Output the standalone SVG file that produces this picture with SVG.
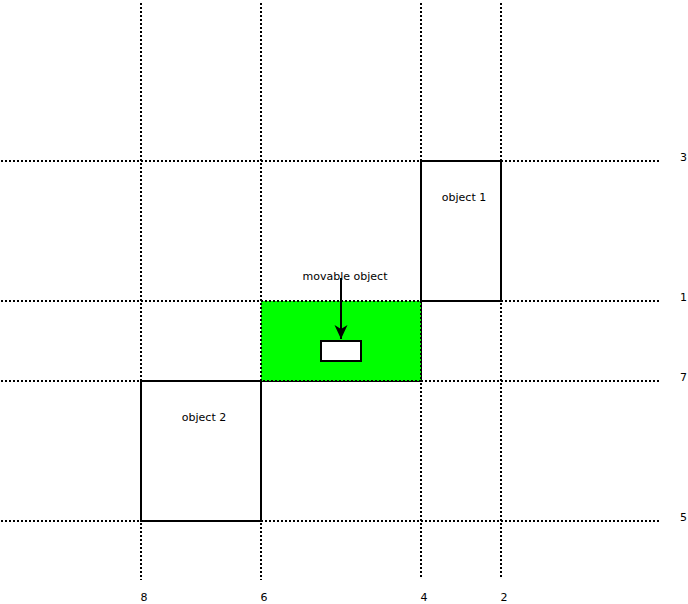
<svg xmlns="http://www.w3.org/2000/svg" width="688" height="604" viewBox="0 0 688 604">
<style>
.grid{stroke:#000;stroke-width:2;stroke-dasharray:2 2;fill:none}
.box{stroke:#000;stroke-width:2;fill:#fff}
.lbl{font-family:"DejaVu Sans","Liberation Sans",sans-serif;font-size:11px;fill:#000}
.m{text-anchor:middle}
</style>
<defs>
<marker id="ah" markerWidth="16" markerHeight="16" refX="14" refY="6.5" orient="auto" markerUnits="userSpaceOnUse">
<path d="M0,0 L14,6.5 L0,13 L4,6.5 Z" fill="#000"/>
</marker>
</defs>
<rect width="688" height="604" fill="#fff"/>
<g id="grid">
<line class="grid" x1="141" y1="3" x2="141" y2="580"/>
<line class="grid" x1="261" y1="3" x2="261" y2="580"/>
<line class="grid" x1="421" y1="3" x2="421" y2="578"/>
<line class="grid" x1="501" y1="3" x2="501" y2="578"/>
<line class="grid" x1="1" y1="161" x2="660" y2="161"/>
<line class="grid" x1="1" y1="301" x2="660" y2="301"/>
<line class="grid" x1="1" y1="381" x2="660" y2="381"/>
<line class="grid" x1="1" y1="521" x2="660" y2="521"/>
</g>
<g id="labels">
<text class="lbl" x="680" y="161">3</text>
<text class="lbl" x="680" y="301">1</text>
<text class="lbl" x="680" y="381">7</text>
<text class="lbl" x="680" y="521">5</text>
<text class="lbl m" x="144" y="601">8</text>
<text class="lbl m" x="264" y="601">6</text>
<text class="lbl m" x="424" y="601">4</text>
<text class="lbl m" x="504" y="601">2</text>
</g>
<g id="zone">
<rect x="261" y="301" width="160" height="80" fill="#00ff00" stroke="#000" stroke-width="2" stroke-dasharray="2 2"/>
</g>
<g id="object1">
<rect class="box" x="421" y="161" width="80" height="140"/>
<text class="lbl m" x="464" y="201">object 1</text>
</g>
<g id="object2">
<rect class="box" x="141" y="381" width="120" height="140"/>
<text class="lbl m" x="204" y="421">object 2</text>
</g>
<g id="movable">
<rect class="box" x="321" y="341" width="40" height="20"/>
<text class="lbl m" x="345" y="280">movable object</text>
</g>
<g id="connectors">
<line x1="341" y1="278" x2="341" y2="339" stroke="#000" stroke-width="2" marker-end="url(#ah)"/>
</g>
</svg>
